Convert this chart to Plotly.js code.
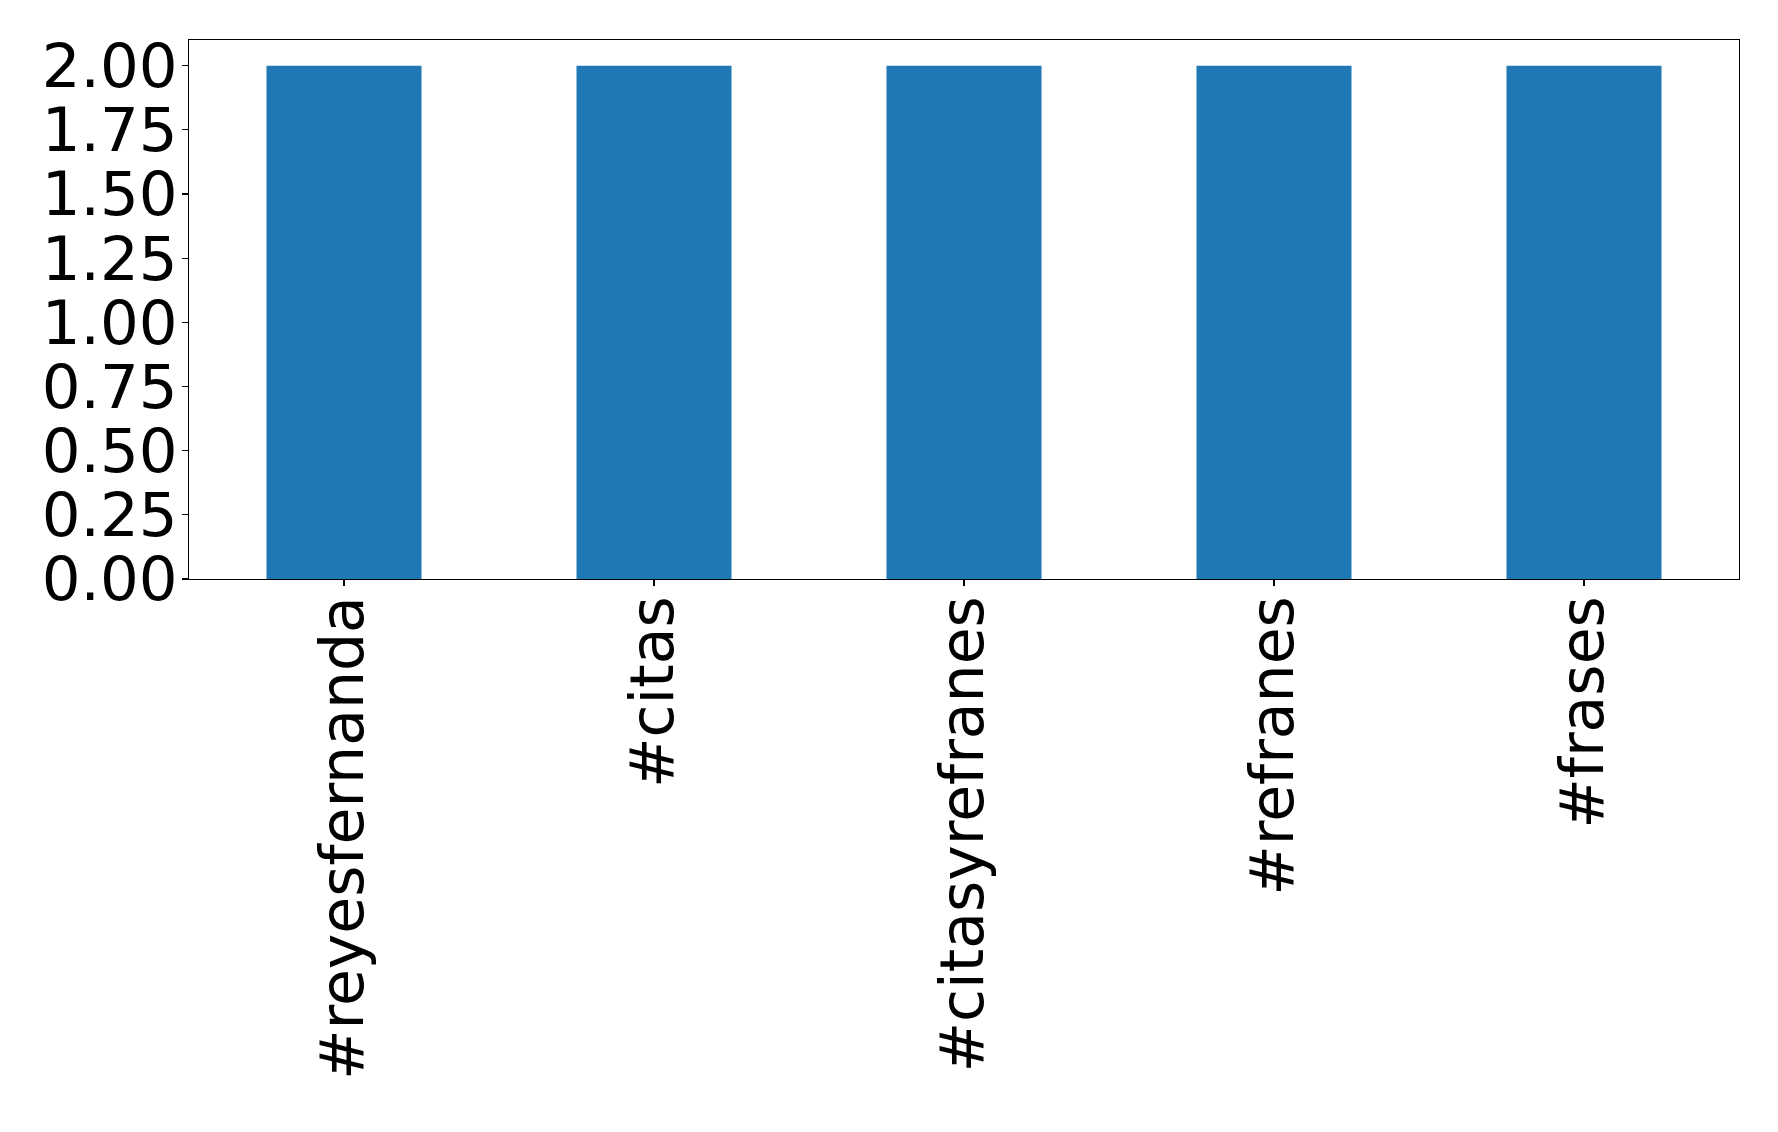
<!DOCTYPE html>
<html>
<head>
<meta charset="utf-8">
<script src="https://cdn.plot.ly/plotly-3.0.1.min.js"></script>
<style>html,body{margin:0;padding:0;background:#fff;}#chart{width:1778px;height:1132px;}</style>
</head>
<body>
<div id="chart"></div>
<script>
const categories = ["#reyesfernanda", "#citas", "#citasyrefranes", "#refranes", "#frases"];
const counts = [2, 2, 2, 2, 2];
const yTickVals = [0, 0.25, 0.5, 0.75, 1.0, 1.25, 1.5, 1.75, 2.0];
const yTickText = ["0.00", "0.25", "0.50", "0.75", "1.00", "1.25", "1.50", "1.75", "2.00"];

const trace = {
  type: "bar",
  x: categories,
  y: counts,
  marker: {color: "#1f77b4", line: {width: 0}},
  width: 0.5,
  hoverinfo: "none"
};

const layout = {
  width: 1778,
  height: 1132,
  margin: {l: 189, r: 39, t: 40, b: 553, pad: 0},
  paper_bgcolor: "#ffffff",
  plot_bgcolor: "#ffffff",
  showlegend: false,
  font: {family: "DejaVu Sans", color: "#000000", size: 60},
  xaxis: {
    type: "category",
    range: [-0.5, 4.5],
    tickangle: -90,
    ticks: "outside",
    ticklen: 6,
    tickwidth: 1.2,
    tickcolor: "#000",
    ticklabelstandoff: -14,
    showgrid: false,
    zeroline: false,
    showline: true,
    linecolor: "#000",
    linewidth: 1.2,
    mirror: true,
    tickfont: {family: "DejaVu Sans", size: 60, color: "#000"},
    automargin: false
  },
  yaxis: {
    range: [0, 2.1],
    tickvals: yTickVals,
    ticktext: yTickText,
    ticks: "outside",
    ticklen: 6,
    tickwidth: 1.2,
    tickcolor: "#000",
    ticklabelstandoff: -8,
    showgrid: false,
    zeroline: false,
    showline: true,
    linecolor: "#000",
    linewidth: 1.2,
    mirror: true,
    tickfont: {family: "DejaVu Sans", size: 61, color: "#000"},
    automargin: false
  }
};

Plotly.newPlot("chart", [trace], layout, {staticPlot: true, displayModeBar: false});
</script>
</body>
</html>
